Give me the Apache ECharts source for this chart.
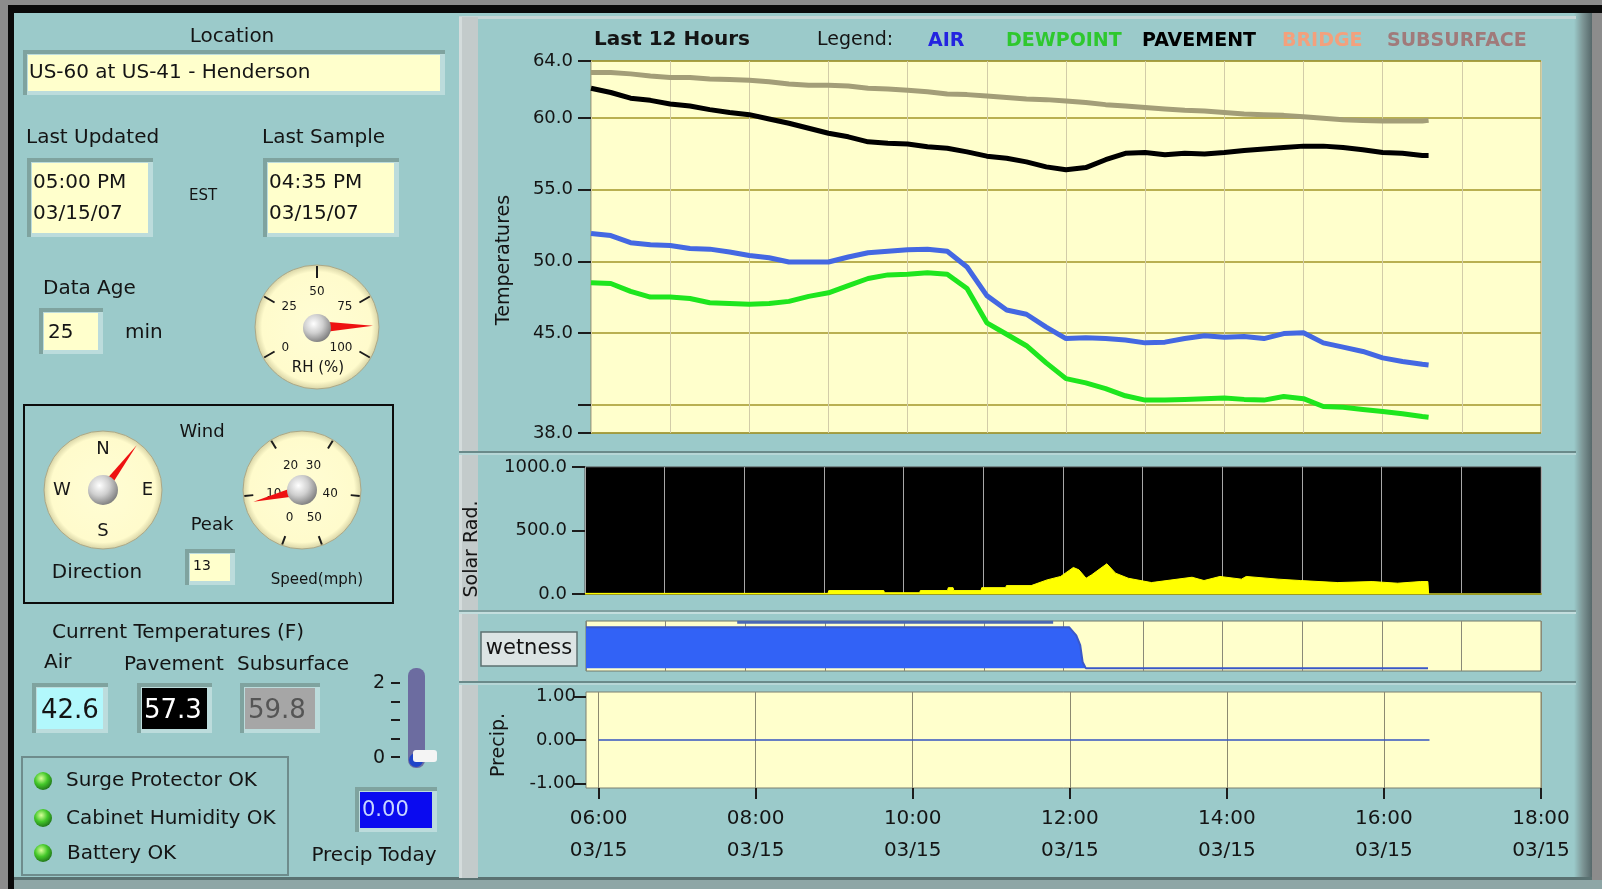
<!DOCTYPE html>
<html>
<head>
<meta charset="utf-8">
<title>US-60 at US-41 - Henderson</title>
<script src="https://cdn.jsdelivr.net/npm/echarts@6/dist/echarts.min.js"></script>
<style>
    html, body { margin: 0; padding: 0; background: #8c8c8c; }
    #main { width: 1602px; height: 889px; }
</style>
</head>
<body>
<div id="main"></div>
<script>
const FONT = 'DejaVu Sans';
const TEAL = '#9bcaca';
const CREAM = '#ffffcc';

// temperatures, last 12 hours (hour of day)
const hours = [6.00, 6.25, 6.50, 6.75, 7.00, 7.25, 7.50, 7.75, 8.00, 8.25, 8.50, 8.75,
    9.00, 9.25, 9.50, 9.75, 10.00, 10.25, 10.50, 10.75, 11.00, 11.25, 11.50, 11.75,
    12.00, 12.25, 12.50, 12.75, 13.00, 13.25, 13.50, 13.75, 14.00, 14.25, 14.50, 14.75,
    15.00, 15.25, 15.50, 15.75, 16.00, 16.25, 16.50, 16.58];
const airTemp = [51.95, 51.8, 51.3, 51.15, 51.1, 50.9, 50.85, 50.65, 50.4, 50.25, 49.95, 49.95,
    49.95, 50.3, 50.6, 50.7, 50.8, 50.85, 50.7, 49.6, 47.6, 46.6, 46.3, 45.4,
    44.6, 44.65, 44.6, 44.5, 44.3, 44.35, 44.6, 44.8, 44.7, 44.75, 44.6, 44.95,
    45.0, 44.3, 44.0, 43.7, 43.25, 43.0, 42.8, 42.75];
const dewpointTemp = [48.5, 48.45, 47.9, 47.5, 47.5, 47.4, 47.1, 47.05, 47.0, 47.05, 47.2, 47.55,
    47.8, 48.3, 48.8, 49.05, 49.1, 49.2, 49.1, 48.1, 45.7, 44.9, 44.1, 42.9,
    41.8, 41.5, 41.1, 40.6, 40.3, 40.3, 40.35, 40.4, 40.45, 40.35, 40.3, 40.55,
    40.4, 39.85, 39.8, 39.65, 39.5, 39.35, 39.15, 39.1];
const pavementTemp = [62.1, 61.8, 61.4, 61.25, 61.0, 60.85, 60.6, 60.4, 60.25, 59.95, 59.65, 59.3,
    58.95, 58.7, 58.35, 58.25, 58.2, 58.0, 57.9, 57.65, 57.35, 57.2, 56.95, 56.6,
    56.4, 56.55, 57.1, 57.55, 57.6, 57.45, 57.55, 57.5, 57.6, 57.75, 57.85, 57.95,
    58.05, 58.05, 57.95, 57.8, 57.6, 57.55, 57.4, 57.4];
const subsurfaceTemp = [63.2, 63.2, 63.1, 62.95, 62.85, 62.85, 62.75, 62.7, 62.65, 62.55, 62.4, 62.3,
    62.3, 62.25, 62.1, 62.05, 61.95, 61.85, 61.7, 61.65, 61.55, 61.45, 61.35, 61.3,
    61.2, 61.1, 60.95, 60.85, 60.75, 60.65, 60.55, 60.5, 60.4, 60.3, 60.25, 60.2,
    60.1, 60.0, 59.9, 59.85, 59.8, 59.8, 59.8, 59.85];
const tempTicks = [38, 40, 45, 50, 55, 60, 64];
const tempLabels = [38, 45, 50, 55, 60, 64];

// solar radiation
const solarHours = [6.00, 9.05, 9.06, 9.75, 9.76, 10.2, 10.21, 10.55, 10.56, 10.62, 10.63, 10.97, 10.98,
    11.28, 11.29, 11.6, 11.8, 11.97, 12.13, 12.2, 12.29, 12.36, 12.55, 12.66, 12.82, 13.11,
    13.62, 13.77, 13.97, 14.24, 14.3, 14.7, 14.98, 15.45, 15.88, 16.2, 16.49, 16.58, 16.59];
const solarRad = [5, 5, 27, 27, 10, 10, 27, 27, 50, 50, 27, 27, 50,
    50, 66, 66, 111, 138, 209, 190, 124, 151, 238, 164, 124, 90,
    132, 106, 138, 117, 138, 117, 106, 90, 98, 85, 98, 98, 0];
const solarTicks = [0, 500, 1000];

// wetness
const wetHours = [6.00, 12.07, 12.16, 12.21, 12.24, 12.28, 16.58];
const wetness = [1, 1, 0.8, 0.56, 0.15, 0, 0];
const wetTopHours = [7.9, 11.87];
const wetTop = [1.12, 1.12];

// precipitation
const precipHours = [6.00, 16.58];
const precip = [0, 0];
const precipTicks = [-1, 0, 1];

const timeTicks = [6, 8, 10, 12, 14, 16, 18];
const timeDate = '03/15';

// gauges
const rhValue = 87;
const windDirection = 37;
const windSpeed = 8.8;
const compassLabels = ['N', 'E', 'S', 'W'];

const legendNames = ['AIR', 'DEWPOINT', 'PAVEMENT', 'BRIDGE', 'SUBSURFACE'];
const legendColors = ['#2424e0', '#2ec82e', '#000000', '#f4a07c', '#a07a7a'];
const legendX = [928, 1006, 1142, 1282, 1387];

function pairs(xs, ys) {
    return xs.map((x, i) => [x, ys[i]]);
}

function rect(x, y, w, h, fill, z, extra) {
    return Object.assign({
        type: 'rect', z: z == null ? -8 : z, silent: true,
        shape: { x: x, y: y, width: w, height: h },
        style: { fill: fill },
    }, extra || {});
}

function txt(x, y, s, size, opts) {
    opts = opts || {};
    return {
        type: 'text', x: x, y: y, z: 6, silent: true,
        rotation: opts.rotation || 0,
        style: {
            text: s,
            fill: opts.color || '#141414',
            fontSize: size,
            fontFamily: opts.family || FONT,
            fontWeight: opts.weight || 'normal',
            align: opts.align || 'left',
            verticalAlign: 'middle',
            textAlign: opts.align || 'left',
            textVerticalAlign: 'middle',
        },
    };
}

// labview style sunken indicator
function box(x, y, w, h, fill) {
    return [
        rect(x, y, w, h, '#7fa39f', -9),
        rect(x + 4, y + 4, w - 4, h - 4, '#bcdcdc', -9),
        rect(x + 5, y + 5, w - 10, h - 9, fill, -8),
    ];
}

function face(cx, cy, r) {
    return {
        type: 'circle', z: -5, silent: true,
        shape: { cx: cx, cy: cy, r: r },
        style: {
            fill: new echarts.graphic.RadialGradient(0.5, 0.5, 0.5, [
                { offset: 0, color: '#fffdd4' },
                { offset: 0.88, color: '#fffbcc' },
                { offset: 1, color: '#d6d2a4' },
            ]),
            stroke: '#aaa888', lineWidth: 1,
        },
    };
}

function hub(cx, cy, r) {
    return {
        type: 'circle', z: 20, silent: true,
        shape: { cx: cx, cy: cy, r: r },
        style: {
            fill: new echarts.graphic.RadialGradient(0.38, 0.35, 0.75, [
                { offset: 0, color: '#ffffff' },
                { offset: 0.45, color: '#cfcfcf' },
                { offset: 1, color: '#6e6e6e' },
            ]),
        },
    };
}

function led(cx, cy) {
    return {
        type: 'circle', z: 6, silent: true,
        shape: { cx: cx, cy: cy, r: 9 },
        style: {
            fill: new echarts.graphic.RadialGradient(0.4, 0.35, 0.7, [
                { offset: 0, color: '#d8ff9a' },
                { offset: 0.5, color: '#44c82a' },
                { offset: 1, color: '#1e6e18' },
            ]),
        },
    };
}

function line(x1, y1, x2, y2, color, width) {
    return {
        type: 'line', z: 6, silent: true,
        shape: { x1: x1, y1: y1, x2: x2, y2: y2 },
        style: { stroke: color, lineWidth: width },
    };
}

function gaugeSeries(o) {
    return {
        type: 'gauge',
        center: o.center,
        radius: o.radius,
        startAngle: o.start,
        endAngle: o.end,
        min: o.min,
        max: o.max,
        splitNumber: o.split,
        z: 4,
        axisLine: { show: true, lineStyle: { width: 1, color: [[1, 'rgba(0,0,0,0)']] } },
        axisTick: { show: false },
        splitLine: {
            show: o.tickLen > 1,
            length: o.tickLen,
            distance: 0,
            lineStyle: { color: '#1c1c1c', width: 2 },
        },
        axisLabel: {
            distance: o.labelDist,
            fontSize: o.fontSize,
            fontFamily: FONT,
            color: '#181818',
            formatter: o.formatter,
        },
        pointer: {
            icon: 'path://M50,0 L100,100 L0,100 Z',
            length: o.needle,
            width: o.needleWidth,
            itemStyle: { color: '#ee1111' },
        },
        anchor: { show: false },
        title: { show: false },
        detail: { show: false },
        data: [{ value: o.value }],
    };
}

// ---- panel decoration ----
let panel = [
    rect(0, 0, 1602, 889, '#8c8c8c', -12),
    rect(8, 5, 1594, 8, '#0a0a0a', -11),
    rect(8, 5, 6, 884, '#0a0a0a', -11),
    rect(14, 13, 1578, 866, TEAL, -11),
    rect(1574, 13, 18, 866, '#6f8585', -10, {
        style: {
            fill: new echarts.graphic.LinearGradient(0, 0, 1, 0, [
                { offset: 0, color: TEAL },
                { offset: 0.5, color: '#7c9494' },
                { offset: 1, color: '#56686a' },
            ]),
        },
    }),
    rect(14, 877, 1578, 3, '#5a7272', -10),
    rect(14, 880, 1588, 9, '#8ea6a6', -10),
    rect(459, 16, 1117, 3, '#c6d6d6', -10),
    rect(459, 17, 19, 861, '#c3cbcb', -10),
    rect(459, 17, 3, 861, '#d4dcdc', -10),
    rect(459, 451, 1117, 2, '#6a8a8a', -10),
    rect(459, 453, 1117, 2, '#b6d6d6', -10),
    rect(459, 610, 1117, 2, '#80a0a0', -10),
    rect(459, 612, 1117, 2, '#c4dede', -10),
    rect(459, 681, 1117, 2, '#6a8a8a', -10),
    rect(459, 683, 1117, 2, '#b6d6d6', -10),
];

// left panel: station info
panel.push(txt(232, 37, 'Location', 20, { align: 'center' }));
panel = panel.concat(box(23, 50, 422, 45, CREAM));
panel.push(txt(29, 73, 'US-60 at US-41 - Henderson', 20));

panel.push(txt(26, 138, 'Last Updated', 20));
panel = panel.concat(box(27, 158, 126, 79, CREAM));
panel.push(txt(33, 183, '05:00 PM', 20));
panel.push(txt(33, 214, '03/15/07', 20));
panel.push(txt(189, 196, 'EST', 15));

panel.push(txt(262, 138, 'Last Sample', 20));
panel = panel.concat(box(263, 158, 136, 79, CREAM));
panel.push(txt(269, 183, '04:35 PM', 20));
panel.push(txt(269, 214, '03/15/07', 20));

panel.push(txt(43, 289, 'Data Age', 20));
panel = panel.concat(box(39, 308, 64, 46, CREAM));
panel.push(txt(48, 333, '25', 20));
panel.push(txt(125, 333, 'min', 20));

// RH gauge
panel.push(face(317, 327, 62));
panel.push(hub(317, 328, 14));
panel.push(txt(318, 368, 'RH (%)', 15, { align: 'center' }));

// wind
panel.push(rect(24, 405, 369, 198, 'none', 5, { style: { fill: 'none', stroke: '#0c0c0c', lineWidth: 2 } }));
panel.push(face(103, 490, 59));
panel.push(hub(103, 490, 15));
panel.push(face(302, 490, 59));
panel.push(hub(302, 490, 15));
panel.push(txt(202, 432, 'Wind', 18, { align: 'center' }));
panel.push(txt(97, 573, 'Direction', 20, { align: 'center' }));
panel.push(txt(212, 525, 'Peak', 18, { align: 'center' }));
panel = panel.concat(box(185, 549, 50, 36, CREAM));
panel.push(txt(193, 566, '13', 14));
panel.push(txt(317, 580, 'Speed(mph)', 15, { align: 'center' }));

// current temperatures
panel.push(txt(52, 633, 'Current Temperatures (F)', 20));
panel.push(txt(44, 663, 'Air', 20));
panel.push(txt(124, 665, 'Pavement', 20));
panel.push(txt(237, 665, 'Subsurface', 20));
panel = panel.concat(box(32, 683, 76, 50, '#b2f8fc'));
panel.push(txt(41, 711, '42.6', 26));
panel = panel.concat(box(137, 683, 75, 50, '#000000'));
panel.push(txt(144, 711, '57.3', 26, { color: '#ffffff' }));
panel = panel.concat(box(240, 683, 80, 50, '#a6a6a6'));
panel.push(txt(248, 711, '59.8', 26, { color: '#555555' }));

// precip slider
panel.push(txt(385, 683, '2', 19, { align: 'right' }));
panel.push(txt(385, 758, '0', 19, { align: 'right' }));
[683, 702, 720, 739, 757].forEach((y) => panel.push(line(391, y, 400, y, '#1c1c1c', 2)));
panel.push(rect(408, 668, 17, 100, '#6c6ca0', 5, { shape: { x: 408, y: 668, width: 17, height: 100, r: 8 } }));
panel.push({
    type: 'circle', z: 6, silent: true,
    shape: { cx: 416, cy: 760, r: 7 },
    style: { fill: '#1f44c8' },
});
panel.push(rect(413, 750, 24, 12, '#f4f4f4', 7, { shape: { x: 413, y: 750, width: 24, height: 12, r: 3 } }));
panel = panel.concat(box(355, 787, 82, 45, '#0a0af0'));
panel.push(txt(362, 811, '0.00', 21, { color: '#c8d6ff' }));
panel.push(txt(374, 856, 'Precip Today', 20, { align: 'center' }));

// status
panel.push(rect(22, 757, 266, 118, 'none', 5, { style: { fill: 'none', stroke: '#6e8c8c', lineWidth: 2 } }));
panel.push(led(43, 781));
panel.push(led(43, 818));
panel.push(led(43, 853));
panel.push(txt(66, 781, 'Surge Protector OK', 20));
panel.push(txt(66, 819, 'Cabinet Humidity OK', 20));
panel.push(txt(67, 854, 'Battery OK', 20));

// right panel labels
panel.push(txt(594, 40, 'Last 12 Hours', 20, { weight: 'bold' }));
panel.push(txt(817, 40, 'Legend:', 19));
legendNames.forEach((name, i) => {
    panel.push(txt(legendX[i], 41, name, 19, { weight: 'bold', color: legendColors[i] }));
});
panel.push(txt(504, 260, 'Temperatures', 19, { align: 'center', rotation: Math.PI / 2 }));
panel.push(txt(472, 549, 'Solar Rad.', 19, { align: 'center', rotation: Math.PI / 2 }));
panel.push(txt(499, 745, 'Precip.', 19, { align: 'center', rotation: Math.PI / 2 }));
panel.push(rect(481, 632, 96, 34, '#dce4e4', 5, { style: { fill: '#dce4e4', stroke: '#5e7272', lineWidth: 1.5 } }));
panel.push(txt(529, 649, 'wetness', 21, { align: 'center' }));

// ---- charts ----
const chart = echarts.init(document.getElementById('main'));

function hourAxis(gridIndex, color) {
    return {
        type: 'value', gridIndex: gridIndex, min: 6, max: 18, interval: 1,
        axisLine: { show: false, onZero: false },
        axisTick: { show: false },
        axisLabel: { show: false },
        splitLine: { show: true, lineStyle: { color: color, width: 1 } },
    };
}

const labelStyle = { fontFamily: FONT, fontSize: 18, color: '#141414' };

const option = {
    animation: false,
    graphic: { elements: panel },
    grid: [
        { left: 591, top: 61, width: 950, height: 372, show: true, backgroundColor: CREAM, borderColor: '#8c8c5c', borderWidth: 1 },
        { left: 585, top: 467, width: 956, height: 127, show: true, backgroundColor: '#000000', borderColor: '#4c4c4c', borderWidth: 1 },
        { left: 586, top: 621, width: 955, height: 50, show: true, backgroundColor: CREAM, borderColor: '#70786a', borderWidth: 1 },
        { left: 586, top: 692, width: 955, height: 96, show: true, backgroundColor: CREAM, borderColor: '#7c8070', borderWidth: 1 },
    ],
    xAxis: [
        hourAxis(0, '#d2cca8'),
        Object.assign(hourAxis(1, '#a8a8a8'), {
            axisLine: { show: true, onZero: false, lineStyle: { color: '#9c9c24', width: 2 } },
        }),
        hourAxis(2, '#8a8a78'),
        {
            type: 'value', gridIndex: 3, min: 5.84, max: 18,
            axisLine: { show: false, onZero: false },
            axisTick: { show: true, customValues: timeTicks, length: 11, lineStyle: { color: '#1c1c1c', width: 2 } },
            axisLabel: {
                customValues: timeTicks,
                fontFamily: FONT,
                color: '#141414',
                fontSize: 20,
                lineHeight: 32,
                margin: 15,
                formatter: (v) => String(v).padStart(2, '0') + ':00\n' + timeDate,
            },
            splitLine: { show: true, lineStyle: { color: '#8c8a70', width: 1 } },
        },
    ],
    yAxis: [
        {
            type: 'value', gridIndex: 0, min: 38, max: 64,
            axisLine: { show: false },
            axisTick: { show: true, customValues: tempTicks, length: 13, lineStyle: { color: '#1c1c1c', width: 2 } },
            axisLabel: Object.assign({ customValues: tempLabels, margin: 18, formatter: (v) => v.toFixed(1) }, labelStyle),
            splitLine: { show: true, lineStyle: { color: '#a29628', width: 1.5 } },
        },
        {
            type: 'value', gridIndex: 1, min: 0, max: 1000,
            axisLine: { show: false },
            axisTick: { show: true, customValues: solarTicks, length: 13, lineStyle: { color: '#1c1c1c', width: 2 } },
            axisLabel: Object.assign({ customValues: solarTicks, margin: 18, formatter: (v) => v.toFixed(1) }, labelStyle),
            splitLine: { show: false },
        },
        {
            type: 'value', gridIndex: 2, min: -0.07, max: 1.15, show: false,
            splitLine: { show: false },
        },
        {
            type: 'value', gridIndex: 3, min: -1.1, max: 1.1,
            axisLine: { show: false },
            axisTick: { show: true, customValues: precipTicks, length: 12, inside: false, lineStyle: { color: '#1c1c1c', width: 2 } },
            axisLabel: Object.assign({ customValues: precipTicks, margin: 10, formatter: (v) => v.toFixed(2) }, labelStyle),
            splitLine: { show: false },
        },
    ],
    series: [
        {
            name: 'SUBSURFACE', type: 'line', xAxisIndex: 0, yAxisIndex: 0,
            data: pairs(hours, subsurfaceTemp), showSymbol: false,
            lineStyle: { color: '#a39e78', width: 5 }, z: 3,
        },
        {
            name: 'PAVEMENT', type: 'line', xAxisIndex: 0, yAxisIndex: 0,
            data: pairs(hours, pavementTemp), showSymbol: false,
            lineStyle: { color: '#000000', width: 5 }, z: 3,
        },
        {
            name: 'DEWPOINT', type: 'line', xAxisIndex: 0, yAxisIndex: 0,
            data: pairs(hours, dewpointTemp), showSymbol: false,
            lineStyle: { color: '#1ee61e', width: 5 }, z: 3,
        },
        {
            name: 'AIR', type: 'line', xAxisIndex: 0, yAxisIndex: 0,
            data: pairs(hours, airTemp), showSymbol: false,
            lineStyle: { color: '#4468e2', width: 5 }, z: 3,
        },
        {
            name: 'Solar Rad.', type: 'line', xAxisIndex: 1, yAxisIndex: 1,
            data: pairs(solarHours, solarRad), showSymbol: false,
            lineStyle: { color: '#ffff00', width: 1 },
            areaStyle: { color: '#ffff00', opacity: 1 },
        },
        {
            name: 'wetness', type: 'line', xAxisIndex: 2, yAxisIndex: 2,
            data: pairs(wetHours, wetness), showSymbol: false,
            lineStyle: { color: '#3a58c8', width: 2 },
            areaStyle: { color: '#3262f6', opacity: 1 },
        },
        {
            name: 'wetness top', type: 'line', xAxisIndex: 2, yAxisIndex: 2,
            data: pairs(wetTopHours, wetTop), showSymbol: false,
            lineStyle: { color: '#4a68b4', width: 3 },
        },
        {
            name: 'Precip.', type: 'line', xAxisIndex: 3, yAxisIndex: 3,
            data: pairs(precipHours, precip), showSymbol: false,
            lineStyle: { color: '#3454c0', width: 1.5 },
        },
        gaugeSeries({
            center: [317, 327], radius: 62, start: 210, end: -30, min: 0, max: 100, split: 4,
            tickLen: 12, labelDist: 9, fontSize: 12, needle: 56, needleWidth: 12, value: rhValue,
        }),
        gaugeSeries({
            center: [103, 490], radius: 59, start: 90, end: -270, min: 0, max: 360, split: 4,
            tickLen: 1, labelDist: 8, fontSize: 18, needle: 56, needleWidth: 9, value: windDirection,
            formatter: (v) => compassLabels[v / 90] || '',
        }),
        gaugeSeries({
            center: [302, 490], radius: 59, start: 250, end: -70, min: 0, max: 50, split: 5,
            tickLen: 9, labelDist: 14, fontSize: 12, needle: 50, needleWidth: 11, value: windSpeed,
        }),
    ],
};

chart.setOption(option);
</script>
</body>
</html>
